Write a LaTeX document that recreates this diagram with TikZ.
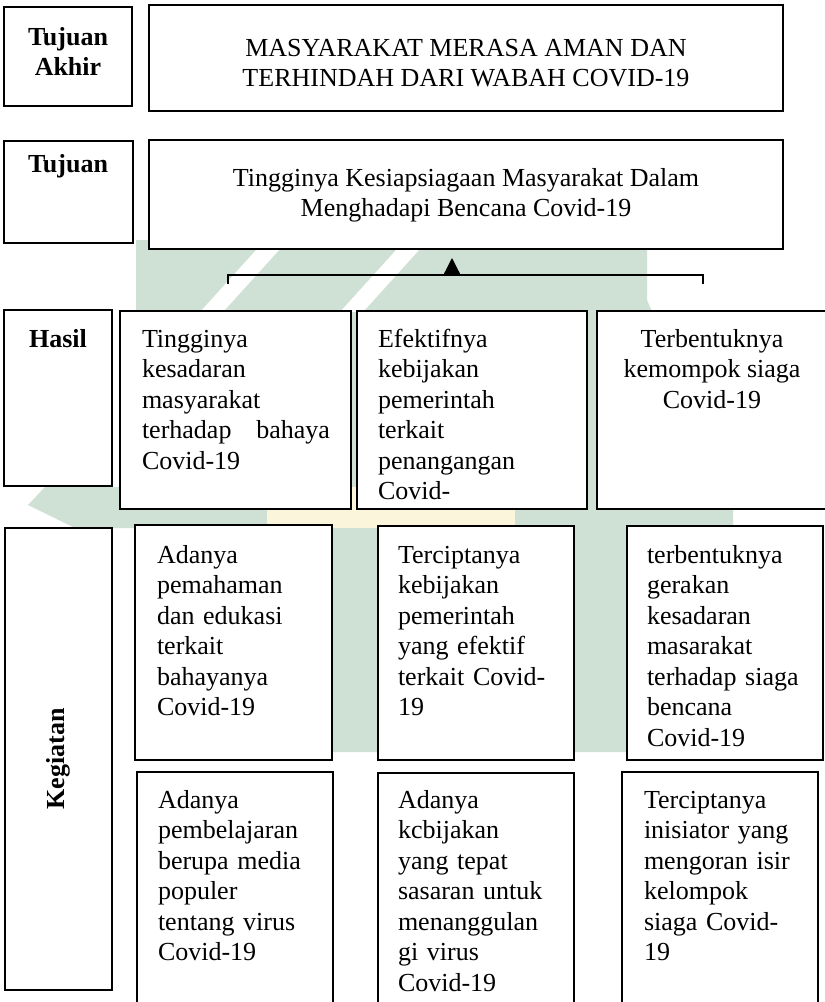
\documentclass[tikz,border=0pt]{standalone}
\usepackage{fontspec}
\setmainfont{Liberation Serif}
\usetikzlibrary{arrows.meta}
\definecolor{wmgreen}{RGB}{207,224,213}
\definecolor{wmyellow}{RGB}{251,245,220}
\tikzset{
  box/.style={draw=black, line width=1.6pt, fill=white, rectangle, inner sep=0pt, outer sep=0pt, anchor=north west},
  txt/.style={inner sep=0pt, outer sep=0pt, font=\fontsize{26}{30.5}\selectfont, yshift=21.35pt},
  ltxt/.style={txt, anchor=north west, align=left, text width=#1},
  ctxt/.style={txt, anchor=north, align=center},
  lbl/.style={txt, anchor=north, align=center, font=\fontsize{26}{30.5}\selectfont\bfseries},
  bracketline/.style={draw=black, line width=1.6pt},
  uparrow/.style={draw=black, line width=1.2pt, -{Triangle[length=16pt,width=16pt]}}
}
\begin{document}
\begin{tikzpicture}[x=1pt,y=-1pt]
\useasboundingbox (0,0) rectangle (825,1002);
\clip (0,0) rectangle (825,1002);
\fill[white] (0,0) rectangle (825,1002);
% faint watermark
\fill[wmgreen] (136,240) -- (647,240) -- (647,300) -- (733,500) -- (733,527) -- (627,527) -- (627,752) -- (136,752) -- cycle;
\fill[wmgreen] (28,505) -- (45,487) -- (136,487) -- (136,528) -- (75,528) -- cycle;
\fill[white] (200,312) -- (223,312) -- (280,249) -- (257,249) -- cycle;
\fill[white] (340,312) -- (363,312) -- (420,249) -- (397,249) -- cycle;
\fill[wmyellow] (267,487) rectangle (515,528);

% row 1
\node[box, minimum width=128pt, minimum height=99pt] (la1) at (4,7) {};
\node[box, minimum width=634pt, minimum height=106pt] (m1) at (149,5) {};
\node[lbl] (la1t) at (68,45) {\strut Tujuan\\Akhir};
\node[ctxt] (m1t) at (466,56) {\strut MASYARAKAT MERASA AMAN DAN\\TERHINDAH DARI WABAH COVID-19};

% row 2
\node[box, minimum width=129pt, minimum height=102pt] (la2) at (4,141) {};
\node[box, minimum width=634pt, minimum height=109pt] (m2) at (149,140) {};
\node[lbl] (la2t) at (68,172) {\strut Tujuan};
\node[ctxt] (m2t) at (466,186) {\strut Tingginya Kesiapsiagaan Masyarakat Dalam\\Menghadapi Bencana Covid-19};

% bracket and arrow
\coordinate (bl) at (228,284);
\coordinate (blt) at (228,275);
\coordinate (brt) at (703,275);
\coordinate (br) at (703,284);
\coordinate (am) at (452,275);
\coordinate (at) at (452,258);
\draw[bracketline] (bl) -- (blt) -- (brt) -- (br);
\draw[uparrow] (am) -- (at);

% row 3 (Hasil)
\node[box, minimum width=108pt, minimum height=176pt] (lh) at (4,310) {};
\node[box, minimum width=231pt, minimum height=198pt] (h1) at (120,311) {};
\node[box, minimum width=230pt, minimum height=198pt] (h2) at (357,311) {};
\node[box, minimum width=238pt, minimum height=198pt] (h3) at (597,311) {};
\node[lbl] (lht) at (58,347) {\strut Hasil};
\node[ltxt=188pt] (h1t) at (142,347) {\strut Tingginya\\kesadaran\\masyarakat\\terhadap\hfill bahaya\\Covid-19};
\node[ltxt=190pt] (h2t) at (378,347) {\strut Efektifnya\\kebijakan\\pemerintah\\terkait\\penangangan\\Covid-};
\node[ctxt] (h3t) at (712,347) {\strut Terbentuknya\\kemompok siaga\\Covid-19};

% row 4 (Kegiatan)
\node[box, minimum width=107pt, minimum height=462pt] (lk) at (5,528) {};
\node[inner sep=0pt, font=\fontsize{26}{30.5}\selectfont\bfseries, rotate=90] (lkt) at (58.5,759) {Kegiatan};

\node[box, minimum width=197pt, minimum height=235pt] (a1) at (135,525) {};
\node[box, minimum width=196pt, minimum height=234pt] (b1) at (378,526) {};
\node[box, minimum width=196pt, minimum height=234pt] (c1) at (627,526) {};
\node[ltxt=170pt] (a1t) at (157,563) {\strut Adanya\\pemahaman\\dan edukasi\\terkait\\bahayanya\\Covid-19};
\node[ltxt=170pt] (b1t) at (398,563) {\strut Terciptanya\\kebijakan\\pemerintah\\yang efektif\\terkait Covid-\\19};
\node[ltxt=170pt] (c1t) at (647,563) {\strut terbentuknya\\gerakan\\kesadaran\\masarakat\\terhadap siaga\\bencana\\Covid-19};

\node[box, minimum width=196pt, minimum height=238pt] (a2) at (137,772) {};
\node[box, minimum width=196pt, minimum height=237pt] (b2) at (378,773) {};
\node[box, minimum width=196pt, minimum height=238pt] (c2) at (622,772) {};
\node[ltxt=170pt] (a2t) at (158,808) {\strut Adanya\\pembelajaran\\berupa media\\populer\\tentang virus\\Covid-19};
\node[ltxt=170pt] (b2t) at (398,808) {\strut Adanya\\kcbijakan\\yang tepat\\sasaran untuk\\menanggulan\\gi virus\\Covid-19};
\node[ltxt=170pt] (c2t) at (644,808) {\strut Terciptanya\\inisiator yang\\mengoran isir\\kelompok\\siaga Covid-\\19};
\end{tikzpicture}
\end{document}
